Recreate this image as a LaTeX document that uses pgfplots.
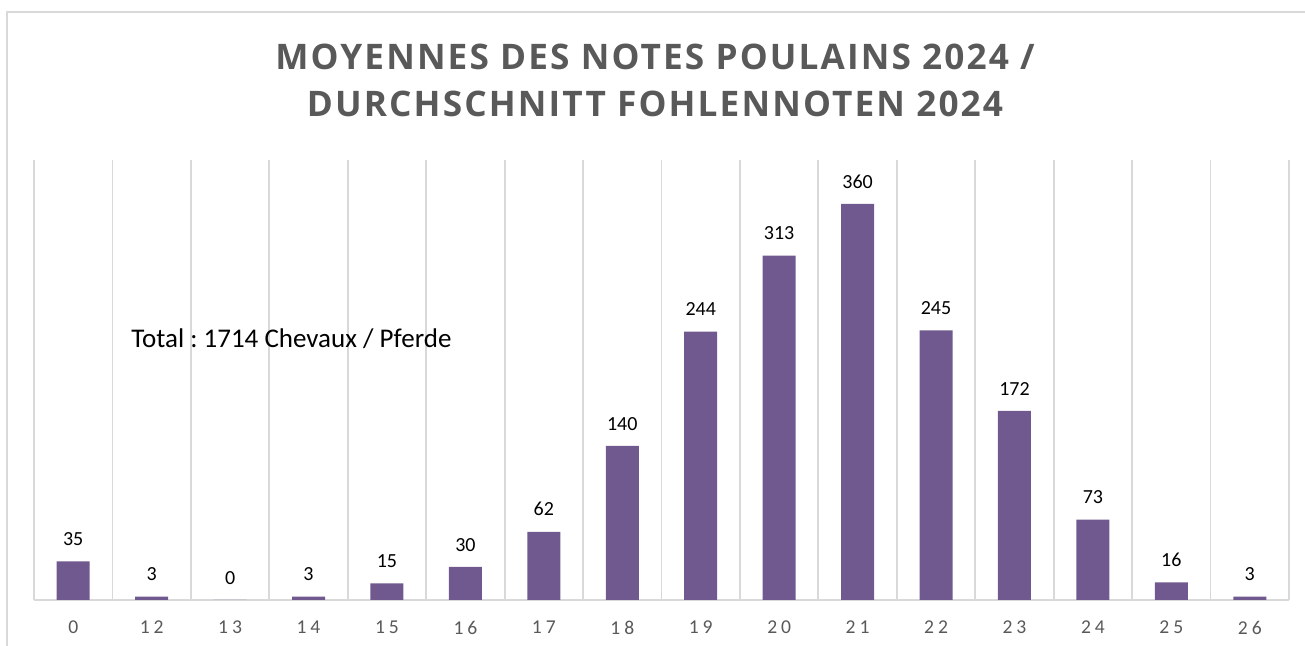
\documentclass[border=0pt]{standalone}
\usepackage{fontspec}
\setmainfont{Carlito}
\newfontfamily\titlefont[LetterSpace=6]{Open Sans}
\newfontfamily\tickfont[LetterSpace=20]{Carlito}
\usepackage{pgfplots}
\pgfplotsset{compat=1.18}
\definecolor{barpurple}{RGB}{112,89,143}
\definecolor{gridgray}{RGB}{217,217,217}
\definecolor{titlegray}{RGB}{89,89,89}
\frenchspacing

\begin{document}
\begin{tikzpicture}[x=1pt,y=1pt]
\useasboundingbox (0,0) rectangle (652.5,323);
%% chart frame (cropped on right and bottom)
\draw[gridgray,line width=0.9pt] (3.5,0) -- (3.5,317) -- (652.5,317);
\begin{axis}[
  at={(17pt,23pt)}, anchor=south west,
  scale only axis, width=627.5pt, height=220pt,
  ybar, bar width=16.5pt,
  xmin=-0.5, xmax=15.5, ymin=0, ymax=400,
  axis x line*=bottom, axis y line=none,
  axis line style={gridgray, line width=0.9pt},
  xtick={0,...,15},
  xticklabels={0,12,13,14,15,16,17,18,19,20,21,22,23,24,25,26},
  minor xtick={-0.5,0.5,...,15.5},
  xminorgrids, minor grid style={gridgray, line width=0.9pt},
  major tick length=0pt, minor tick length=0pt,
  xticklabel style={font=\tickfont\fontsize{9.8}{11}\selectfont, text=titlegray, yshift=-7pt},
  /pgf/number format/assume math mode=true,
  nodes near coords,
  every node near coord/.append style={font=\fontsize{10}{11}\selectfont, text=black, yshift=4.3pt},
  clip=false,
]
\addplot[fill=barpurple, draw=none] coordinates {
  (0,35)(1,3)(2,0)(3,3)(4,15)(5,30)(6,62)(7,140)
  (8,244)(9,313)(10,360)(11,245)(12,172)(13,73)(14,16)(15,3)
};
\end{axis}
\node[font=\titlefont\bfseries\fontsize{17.6}{21}\selectfont, text=titlegray, anchor=base]
  at (327.5,288) {MOYENNES DES NOTES POULAINS 2024 /};
\node[font=\titlefont\bfseries\fontsize{17.6}{21}\selectfont, text=titlegray, anchor=base]
  at (327.5,264.5) {DURCHSCHNITT FOHLENNOTEN 2024};
\node[anchor=base west, font=\fontsize{13.5}{16}\selectfont, inner sep=0pt]
  at (65.5,149) {Total : 1714 Chevaux / Pferde};
\end{tikzpicture}
\end{document}
